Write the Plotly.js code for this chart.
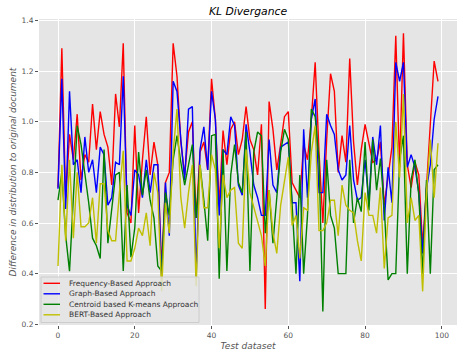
<!DOCTYPE html>
<html>
<head>
<meta charset="utf-8">
<script src="https://cdn.plot.ly/plotly-3.0.1.min.js"></script>
<style>html,body{margin:0;padding:0;background:#fff;}#chart{width:463px;height:355px;}</style>
</head>
<body>
<div id="chart"></div>
<script>
const seriesNames = ["Frequency-Based Approach", "Graph-Based Approach", "Centroid based K-means Approach", "BERT-Based Approach"];
const seriesColors = ["#FF0000", "#0000FF", "#008000", "#BFBF00"];

const frequencyBased = [0.74,1.29,0.70,0.95,0.85,1.03,0.77,0.87,0.84,1.07,0.89,1.04,0.95,0.90,0.75,1.11,0.98,1.31,0.64,0.60,
0.985,0.64,0.85,1.02,0.79,0.92,0.83,0.42,0.76,0.80,1.31,1.18,0.92,0.79,0.96,1.00,0.62,0.88,0.92,0.81,
1.17,1.01,0.67,0.965,0.83,0.97,1.00,0.87,0.93,1.06,0.93,0.89,0.79,0.99,0.26,1.08,0.97,0.81,0.91,1.02,
1.04,0.76,0.73,0.70,0.91,0.85,1.01,1.235,0.88,0.60,0.93,1.19,1.12,0.80,0.945,0.84,1.25,0.92,0.75,0.89,
0.99,0.92,0.84,0.85,0.92,0.67,0.79,0.90,1.34,0.82,1.35,0.83,0.74,0.84,0.79,0.51,0.74,0.98,1.24,1.16];

const graphBased = [0.735,1.17,0.655,1.12,0.83,0.85,0.72,0.94,0.80,0.85,0.72,0.90,0.87,0.67,0.70,0.84,0.83,1.18,0.67,0.63,
0.81,0.79,0.70,0.85,0.72,0.83,0.83,0.39,0.76,0.55,1.16,1.12,0.93,0.77,1.05,1.06,0.39,0.89,0.98,0.81,
1.12,1.01,0.63,0.89,0.87,1.02,0.985,0.75,0.71,0.99,0.88,0.75,0.70,0.63,0.63,0.93,0.75,0.72,0.90,0.91,
0.92,0.68,0.68,0.37,0.97,0.70,1.01,1.09,0.72,0.72,1.03,0.985,0.95,0.81,0.77,0.79,0.985,0.77,0.69,0.70,
0.85,0.68,0.94,0.83,0.985,0.61,0.82,0.68,1.235,1.16,1.235,0.82,0.87,0.82,0.72,0.48,0.735,0.83,1.01,1.10];

const centroidKMeans = [0.69,0.80,0.55,0.41,0.70,0.985,0.91,0.80,0.68,0.54,0.51,0.46,0.89,0.52,0.65,0.79,0.80,0.41,0.75,0.465,
0.58,0.88,0.71,0.81,0.69,0.62,0.43,0.41,0.72,0.63,0.85,0.945,0.84,0.75,0.83,0.91,0.62,0.83,0.69,0.53,
0.945,0.95,0.38,0.89,0.41,0.79,0.91,0.76,0.72,0.96,0.41,0.88,0.96,0.945,0.56,0.73,0.52,0.70,0.88,0.97,
0.93,0.67,0.40,0.79,0.40,0.63,1.05,1.02,0.85,0.25,0.85,0.63,0.58,0.40,0.40,0.40,0.85,0.60,0.70,0.645,
0.92,0.65,0.93,0.73,0.855,0.66,0.375,0.40,0.40,0.85,0.945,0.40,0.77,0.85,0.71,0.40,0.77,0.40,0.81,0.83];

const bertBased = [0.43,0.83,0.53,0.85,0.54,0.80,0.585,0.585,0.60,0.70,0.52,0.755,0.755,0.57,0.53,0.53,0.72,0.885,0.45,0.45,
0.50,0.58,0.55,0.64,0.51,0.80,0.72,0.33,0.68,0.56,0.88,1.05,0.70,0.58,0.72,0.83,0.35,0.83,0.66,0.66,
0.87,0.81,0.50,0.79,0.70,0.73,0.74,0.52,0.50,0.89,0.72,0.66,0.60,0.55,0.43,0.73,0.56,0.48,0.67,0.76,
0.86,0.59,0.63,0.46,0.66,0.65,0.88,0.985,0.57,0.57,0.60,0.69,0.69,0.55,0.75,0.67,0.65,0.64,0.53,0.45,
0.72,0.63,0.63,0.56,0.74,0.42,0.62,0.63,1.00,0.78,1.11,0.60,0.70,0.61,0.63,0.33,0.72,0.93,0.70,0.915];

const xTickVals = [0, 20, 40, 60, 80, 100];
const yTickVals = [0.2, 0.4, 0.6, 0.8, 1.0, 1.2, 1.4];
const yTickText = ["0.2", "0.4", "0.6", "0.8", "1.0", "1.2", "1.4"];

const allSeries = [frequencyBased, graphBased, centroidKMeans, bertBased];
const xs = frequencyBased.map((_, i) => i);

const traces = allSeries.map((ys, k) => ({
  x: xs, y: ys, type: "scatter", mode: "lines", name: seriesNames[k],
  line: {color: seriesColors[k], width: 1.4}, showlegend: false
}));

// plot area geometry (pixels) for the hand-made matplotlib-style legend
const W = 463, H = 355, L = 39, R = 6, T = 19, B = 30;
const pw = W - L - R, ph = H - T - B;
const px = v => (v - L) / pw;
const py = v => (H - B - v) / ph;

const shapes = [{
  type: "rect", xref: "paper", yref: "paper", layer: "above",
  x0: px(41), x1: px(199), y0: py(322.5), y1: py(277),
  fillcolor: "rgba(229,229,229,0.8)", line: {color: "#CCCCCC", width: 1}
}];
const annotations = [];
const rowY = [283.3, 293.8, 304.3, 314.8];
seriesNames.forEach((name, k) => {
  shapes.push({type: "line", xref: "paper", yref: "paper", layer: "above",
    x0: px(43.5), x1: px(60), y0: py(rowY[k]), y1: py(rowY[k]),
    line: {color: seriesColors[k], width: 1.4}});
  annotations.push({text: name, xref: "paper", yref: "paper", x: px(66.5), y: py(rowY[k]),
    xanchor: "left", yanchor: "middle", showarrow: false,
    font: {size: 7.5, color: "#333333"}});
});

const font = "DejaVu Sans, sans-serif";
const layout = {
  width: W, height: H,
  margin: {l: L, r: R, t: T, b: B},
  paper_bgcolor: "#ffffff",
  plot_bgcolor: "#E5E5E5",
  font: {family: font, color: "#555555", size: 7.5},
  title: {text: "KL Divergance", font: {family: font, size: 10.8, color: "#000000", style: "italic"},
          x: 0.5, xref: "paper", xanchor: "center", y: 1 - 11/355, yref: "container", yanchor: "middle"},
  xaxis: {range: [-4.95, 103.95], tickvals: xTickVals, showgrid: true, gridcolor: "#FFFFFF", gridwidth: 1,
          zeroline: false, showline: false, ticks: "outside", ticklen: 3, tickcolor: "#555555",
          tickfont: {size: 7.5, color: "#555555"},
          title: {text: "Test dataset", font: {size: 9, color: "#555555", style: "italic"}, standoff: 3}},
  yaxis: {range: [0.197, 1.406], tickvals: yTickVals, ticktext: yTickText, showgrid: true, gridcolor: "#FFFFFF", gridwidth: 1,
          zeroline: false, showline: false, ticks: "outside", ticklen: 3, tickcolor: "#555555",
          tickfont: {size: 7.5, color: "#555555"},
          title: {text: "Difference in distribution to original document", font: {size: 9, color: "#555555", style: "italic"}, standoff: 3}},
  showlegend: false,
  shapes: shapes,
  annotations: annotations
};

Plotly.newPlot("chart", traces, layout, {displayModeBar: false, staticPlot: true});
</script>
</body>
</html>
